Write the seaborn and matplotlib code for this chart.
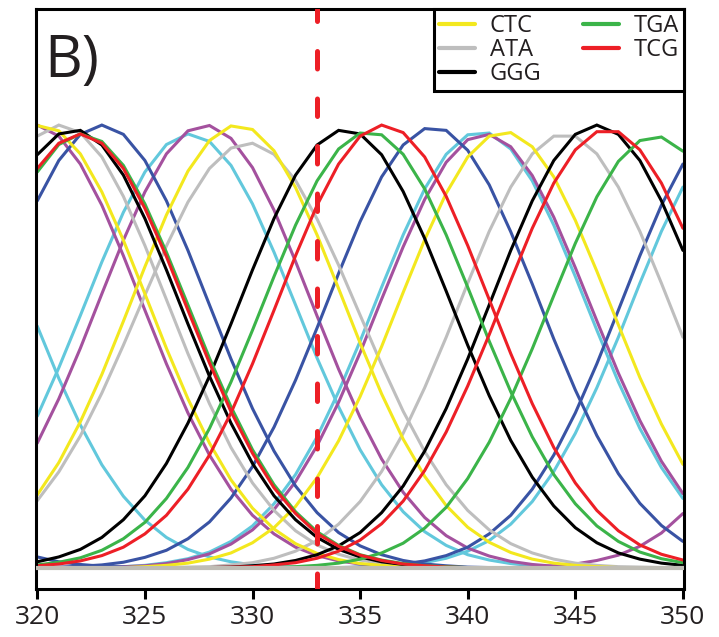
import matplotlib
matplotlib.use("Agg")
import matplotlib.pyplot as plt
from matplotlib.lines import Line2D
import seaborn as sns

# ---------------------------------------------------------------
# Signal traces sampled at each position (one list per peak)
# ---------------------------------------------------------------
positions = list(range(320, 351))

cyan_z = [0.546, 0.428, 0.323, 0.233, 0.162, 0.108, 0.069, 0.042, 0.025, 0.014,
          0.007, 0.004, 0.002, 0.001, 0, 0, 0, 0, 0, 0,
          0, 0, 0, 0, 0, 0, 0, 0, 0, 0, 0]
cyan_b = [0.343, 0.452, 0.570, 0.691, 0.803, 0.894, 0.956, 0.980, 0.963, 0.909,
          0.822, 0.713, 0.594, 0.474, 0.364, 0.267, 0.188, 0.127, 0.082, 0.051,
          0.030, 0.018, 0.010, 0.005, 0.003, 0.001, 0, 0, 0, 0, 0]
cyan_c = [0, 0, 0.001, 0.002, 0.003, 0.006, 0.012, 0.021, 0.036, 0.060,
          0.095, 0.145, 0.211, 0.296, 0.398, 0.512, 0.634, 0.752, 0.856, 0.934,
          0.978, 0.982, 0.946, 0.874, 0.774, 0.658, 0.537, 0.420, 0.315, 0.227, 0.157]
cyan_d = [0, 0, 0, 0, 0, 0, 0, 0, 0, 0,
          0, 0, 0, 0, 0, 0.002, 0.003, 0.007, 0.012, 0.022,
          0.038, 0.062, 0.099, 0.150, 0.218, 0.304, 0.407, 0.521, 0.643, 0.760, 0.860]

purple_a = [1.000, 0.975, 0.912, 0.819, 0.705, 0.582, 0.461, 0.350, 0.255, 0.178,
            0.119, 0.077, 0.047, 0.028, 0.016, 0.009, 0.004, 0.002, 0.001, 0,
            0, 0, 0, 0, 0, 0, 0, 0, 0, 0, 0]
purple_b = [0.282, 0.382, 0.496, 0.619, 0.740, 0.849, 0.935, 0.987, 0.999, 0.970,
            0.904, 0.808, 0.692, 0.569, 0.449, 0.340, 0.246, 0.171, 0.114, 0.073,
            0.045, 0.027, 0.015, 0.008, 0.004, 0.002, 0, 0, 0, 0, 0]
purple_c = [0, 0, 0.001, 0.001, 0.003, 0.005, 0.010, 0.019, 0.032, 0.054,
            0.086, 0.132, 0.195, 0.276, 0.374, 0.486, 0.607, 0.725, 0.832, 0.916,
            0.967, 0.979, 0.951, 0.886, 0.792, 0.678, 0.558, 0.440, 0.333, 0.241, 0.168]
purple_d = [0, 0, 0, 0, 0, 0, 0, 0, 0, 0,
            0, 0, 0, 0, 0, 0, 0, 0, 0, 0,
            0, 0, 0.001, 0.002, 0.005, 0.009, 0.017, 0.029, 0.049, 0.079, 0.123]

blue_z = [0.025, 0.014, 0.008, 0.004, 0.002, 0.001, 0, 0, 0, 0,
          0, 0, 0, 0, 0, 0, 0, 0, 0, 0,
          0, 0, 0, 0, 0, 0, 0, 0, 0, 0, 0]
blue_a = [0.829, 0.920, 0.979, 1.000, 0.979, 0.920, 0.829, 0.717, 0.594, 0.472,
          0.360, 0.264, 0.185, 0.125, 0.080, 0.050, 0.030, 0.017, 0.009, 0.005,
          0.002, 0.001, 0, 0, 0, 0, 0, 0, 0, 0, 0]
blue_b = [0.001, 0.002, 0.004, 0.007, 0.013, 0.024, 0.040, 0.066, 0.104, 0.158,
          0.229, 0.318, 0.424, 0.542, 0.665, 0.782, 0.883, 0.955, 0.992, 0.988,
          0.943, 0.865, 0.759, 0.641, 0.517, 0.402, 0.299, 0.213, 0.146, 0.096, 0.060]
blue_d = [0, 0, 0, 0, 0, 0, 0, 0, 0, 0,
          0, 0, 0, 0, 0.001, 0.002, 0.004, 0.009, 0.016, 0.028,
          0.047, 0.077, 0.119, 0.178, 0.255, 0.350, 0.461, 0.582, 0.705, 0.819, 0.912]

gray_a = [0.975, 1.000, 0.983, 0.928, 0.839, 0.728, 0.606, 0.484, 0.371, 0.272,
          0.192, 0.130, 0.084, 0.052, 0.031, 0.018, 0.010, 0.005, 0.003, 0.001,
          0, 0, 0, 0, 0, 0, 0, 0, 0, 0, 0]
gray_b = [0.152, 0.217, 0.298, 0.395, 0.503, 0.616, 0.727, 0.826, 0.902, 0.948,
          0.959, 0.934, 0.875, 0.788, 0.684, 0.571, 0.459, 0.354, 0.263, 0.188,
          0.130, 0.086, 0.055, 0.034, 0.020, 0.011, 0.006, 0.003, 0.002, 0.001, 0]
gray_c = [0, 0, 0, 0, 0, 0, 0.001, 0.002, 0.003, 0.007,
          0.012, 0.022, 0.038, 0.062, 0.099, 0.150, 0.218, 0.304, 0.407, 0.521,
          0.643, 0.760, 0.860, 0.935, 0.975, 0.975, 0.935, 0.860, 0.760, 0.643, 0.521]

yellow_a = [0.999, 0.987, 0.935, 0.849, 0.740, 0.619, 0.496, 0.382, 0.282, 0.199,
            0.135, 0.088, 0.055, 0.033, 0.019, 0.010, 0.006, 0.003, 0.001, 0,
            0, 0, 0, 0, 0, 0, 0, 0, 0, 0, 0]
yellow_b = [0.165, 0.238, 0.330, 0.437, 0.557, 0.680, 0.797, 0.896, 0.965, 0.998,
            0.990, 0.942, 0.859, 0.752, 0.631, 0.508, 0.393, 0.291, 0.207, 0.141,
            0.092, 0.058, 0.035, 0.020, 0.011, 0.006, 0.003, 0.001, 0, 0, 0]
yellow_c = [0, 0, 0, 0.001, 0.001, 0.003, 0.006, 0.011, 0.020, 0.034,
            0.057, 0.091, 0.139, 0.204, 0.287, 0.387, 0.500, 0.622, 0.741, 0.846,
            0.928, 0.975, 0.983, 0.951, 0.883, 0.785, 0.670, 0.549, 0.430, 0.325, 0.234]

black_a = [0.933, 0.980, 0.988, 0.955, 0.887, 0.789, 0.673, 0.551, 0.433, 0.327,
           0.236, 0.163, 0.109, 0.069, 0.042, 0.025, 0.014, 0.008, 0.004, 0.002,
           0, 0, 0, 0, 0, 0, 0, 0, 0, 0, 0]
black_b = [0.014, 0.025, 0.042, 0.069, 0.109, 0.163, 0.236, 0.327, 0.433, 0.551,
           0.673, 0.789, 0.887, 0.955, 0.988, 0.980, 0.933, 0.850, 0.744, 0.625,
           0.503, 0.389, 0.288, 0.205, 0.140, 0.091, 0.057, 0.034, 0.020, 0.011, 0.006]
black_c = [0, 0, 0, 0, 0, 0, 0, 0, 0.001, 0.002,
           0.005, 0.009, 0.017, 0.030, 0.050, 0.080, 0.125, 0.185, 0.264, 0.360,
           0.472, 0.594, 0.717, 0.829, 0.920, 0.979, 1.000, 0.979, 0.920, 0.829, 0.717]

green_a = [0.894, 0.956, 0.980, 0.963, 0.909, 0.822, 0.713, 0.594, 0.474, 0.364,
           0.267, 0.188, 0.127, 0.082, 0.051, 0.030, 0.018, 0.010, 0.005, 0.003,
           0.001, 0, 0, 0, 0, 0, 0, 0, 0, 0, 0]
green_b = [0.007, 0.013, 0.023, 0.040, 0.066, 0.103, 0.157, 0.227, 0.315, 0.420,
           0.537, 0.658, 0.774, 0.874, 0.946, 0.982, 0.978, 0.934, 0.856, 0.752,
           0.634, 0.512, 0.398, 0.296, 0.211, 0.145, 0.095, 0.060, 0.036, 0.021, 0.012]
green_c = [0, 0, 0, 0, 0, 0, 0, 0, 0, 0,
           0.001, 0.001, 0.003, 0.006, 0.011, 0.020, 0.034, 0.056, 0.090, 0.137,
           0.202, 0.284, 0.383, 0.495, 0.615, 0.733, 0.838, 0.918, 0.965, 0.973, 0.941]

red_a = [0.902, 0.959, 0.980, 0.959, 0.902, 0.812, 0.703, 0.582, 0.463, 0.353,
         0.259, 0.181, 0.123, 0.078, 0.049, 0.029, 0.017, 0.009, 0.005, 0.002,
         0.001, 0, 0, 0, 0, 0, 0, 0, 0, 0, 0]
red_b = [0.005, 0.009, 0.016, 0.028, 0.047, 0.077, 0.119, 0.178, 0.255, 0.350,
         0.461, 0.582, 0.705, 0.819, 0.912, 0.975, 1.000, 0.983, 0.928, 0.839,
         0.728, 0.606, 0.484, 0.371, 0.272, 0.192, 0.130, 0.084, 0.052, 0.031, 0.018]
red_c = [0, 0, 0, 0, 0, 0, 0, 0, 0.001, 0.002,
         0.003, 0.007, 0.012, 0.022, 0.038, 0.063, 0.100, 0.151, 0.220, 0.307,
         0.411, 0.527, 0.649, 0.767, 0.869, 0.944, 0.985, 0.985, 0.944, 0.869, 0.767]

marker_position = 333
xtick_values = [320, 325, 330, 335, 340, 345, 350]
legend_labels = ["CTC", "ATA", "GGG", "TGA", "TCG"]

COLORS = {
    "yellow": "#F3E81E",
    "gray": "#BEBEBE",
    "black": "#000000",
    "green": "#3BB449",
    "red": "#ED1F26",
    "blue": "#3953A4",
    "cyan": "#62C8DC",
    "purple": "#A4519E",
}
legend_colors = ["yellow", "gray", "black", "green", "red"]

# drawing order, bottom to top
traces = [
    ("cyan", cyan_z), ("cyan", cyan_b), ("cyan", cyan_c), ("cyan", cyan_d),
    ("purple", purple_a), ("purple", purple_b), ("purple", purple_c), ("purple", purple_d),
    ("blue", blue_z), ("blue", blue_a), ("blue", blue_b), ("blue", blue_d),
    ("gray", gray_a), ("gray", gray_b), ("gray", gray_c),
    ("yellow", yellow_a), ("yellow", yellow_b), ("yellow", yellow_c),
    ("black", black_a), ("black", black_b), ("black", black_c),
    ("green", green_a), ("green", green_b), ("green", green_c),
    ("red", red_a), ("red", red_b), ("red", red_c),
]

sns.set_style("white")
plt.rcParams["font.family"] = ["Open Sans", "DejaVu Sans"]
TEXT = "#231F20"

fig = plt.figure(figsize=(7.19, 6.37), dpi=100)
ax = fig.add_axes([36 / 719, 48 / 637, 648 / 719, 580 / 637])

LW = 2.2
for color_name, values in traces:
    sns.lineplot(x=positions, y=values, color=COLORS[color_name], lw=LW,
                 ax=ax, legend=False, solid_joinstyle="miter")

# zero baseline
ax.axhline(0, color="#BFBDB5", lw=3.0, zorder=3)

# marked position
ax.axvline(marker_position, color=COLORS["red"], lw=3.6,
           linestyle=(0.4, (3.5, 6)), dash_capstyle="round", zorder=6)

ax.set_xlim(319.94, 350.05)
ax.set_ylim(-0.0474, 1.262)
ax.set_xticks(xtick_values)
ax.set_xticklabels([str(v) for v in xtick_values])
ax.set_yticks([])
ax.set_xlabel("")
ax.set_ylabel("")
ax.tick_params(axis="x", direction="out", length=7.5, width=2.2, pad=4,
               labelsize=19, colors="black", labelcolor=TEXT, bottom=True)
for spine in ax.spines.values():
    spine.set_visible(True)
    spine.set_color("black")
    spine.set_linewidth(2.2)

ax.text(0.012, 0.8828, "B)", transform=ax.transAxes, fontsize=42, color=TEXT,
        ha="left", va="baseline")

handles = [Line2D([0], [0], color=COLORS[c], lw=3.0) for c in legend_colors]
leg = ax.legend(handles, legend_labels, loc="upper right", ncol=2,
                frameon=True, fancybox=False, shadow=False, framealpha=1,
                edgecolor="black", borderaxespad=0, fontsize=17,
                handlelength=1.55, handletextpad=0.6, columnspacing=1.75,
                labelspacing=0.0, borderpad=0.22)
leg.get_frame().set_linewidth(2.2)
for t in leg.get_texts():
    t.set_color(TEXT)
leg.set_zorder(10)

fig.savefig("out.png", dpi=100)
